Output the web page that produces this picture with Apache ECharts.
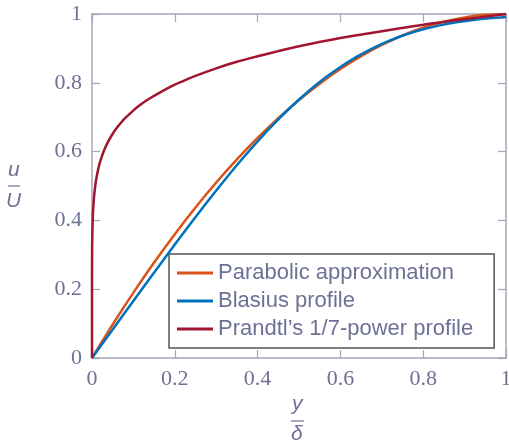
<!DOCTYPE html>
<html>
<head>
<meta charset="utf-8">
<script src="https://cdn.jsdelivr.net/npm/echarts@6/dist/echarts.min.js"></script>
<style>
  html, body { margin: 0; padding: 0; background: #fff; }
  #chart { width: 509px; height: 444px; }
</style>
</head>
<body>
<div id="chart"></div>
<script>
// values
var seriesNames = ['Parabolic approximation', 'Blasius profile', "Prandtl\u2019s 1/7-power profile"];
var parabolicX = [0, 0.05, 0.1, 0.15, 0.2, 0.25, 0.3, 0.35, 0.4, 0.45, 0.5, 0.55, 0.6, 0.65, 0.7, 0.75, 0.8, 0.85, 0.9, 0.95, 1];
var parabolicY = [0, 0.0975, 0.19, 0.2775, 0.36, 0.4375, 0.51, 0.5775, 0.64, 0.6975, 0.75, 0.7975, 0.84, 0.8775, 0.91, 0.9375, 0.96, 0.9775, 0.99, 0.9975, 1];
var blasiusX = [0, 0.04, 0.08, 0.12, 0.16, 0.2, 0.24, 0.28, 0.32, 0.36, 0.4, 0.44, 0.48, 0.52, 0.56, 0.6, 0.64, 0.68, 0.72, 0.76, 0.8, 0.84, 0.88, 0.92, 0.96, 1];
var blasiusY = [0, 0.0664, 0.1328, 0.1989, 0.2647, 0.3298, 0.3938, 0.4563, 0.5168, 0.5748, 0.6298, 0.6813, 0.729, 0.7725, 0.8115, 0.846, 0.8761, 0.9018, 0.9233, 0.9411, 0.9555, 0.967, 0.9759, 0.9827, 0.9878, 0.9916];
var prandtlX = [0, 0.00001, 0.0001, 0.0002, 0.0005, 0.001, 0.002, 0.003, 0.005, 0.0075, 0.01, 0.015, 0.02, 0.03, 0.04, 0.05, 0.06, 0.07, 0.08, 0.1, 0.12, 0.14, 0.17, 0.2, 0.22, 0.25, 0.3, 0.35, 0.4, 0.45, 0.5, 0.6, 0.7, 0.8, 0.9, 1];
var prandtlY = [0, 0.193, 0.268, 0.296, 0.338, 0.373, 0.412, 0.436, 0.469, 0.497, 0.518, 0.549, 0.572, 0.606, 0.631, 0.652, 0.669, 0.684, 0.697, 0.72, 0.739, 0.755, 0.776, 0.795, 0.805, 0.820, 0.842, 0.861, 0.877, 0.892, 0.906, 0.930, 0.950, 0.969, 0.985, 1];

var colors = ['#D95319', '#0072BD', '#A2142F'];
var axisColor = '#a3a5bb';
var textColor = '#6e7196';

function pairs(xs, ys) {
  var out = [];
  for (var i = 0; i < xs.length; i++) out.push([xs[i], ys[i]]);
  return out;
}

var myChart = echarts.init(document.getElementById('chart'));

var labelStyle = {
  color: textColor,
  fontFamily: 'Liberation Serif',
  fontSize: 22
};

function valAxis(pos, showLabel) {
  return {
    type: 'value',
    position: pos,
    min: 0,
    max: 1,
    interval: 0.2,
    axisLine: { show: true, onZero: false, lineStyle: { color: axisColor, width: 1.5 } },
    axisTick: { show: true, inside: true, length: 8, lineStyle: { color: axisColor, width: 1.2 } },
    splitLine: { show: false },
    axisLabel: showLabel ? Object.assign({ show: true, margin: 10 }, labelStyle) : { show: false }
  };
}

var option = {
  animation: false,
  backgroundColor: '#fff',
  grid: { left: 92, right: 3, top: 14, bottom: 86, outerBoundsMode: 'none', containLabel: false },
  xAxis: [valAxis('bottom', true), valAxis('top', false)],
  yAxis: [valAxis('left', true), valAxis('right', false)],
  legend: {
    orient: 'vertical',
    left: 169,
    top: 254,
    padding: [8, 21, 8, 8],
    itemGap: 6,
    itemWidth: 36,
    itemHeight: 3,
    icon: 'rect',
    backgroundColor: '#fff',
    borderColor: '#555',
    borderWidth: 1.5,
    textStyle: { color: textColor, fontFamily: 'Liberation Sans', fontSize: 22 },
    data: seriesNames
  },
  series: [
    {
      name: seriesNames[0], type: 'line', data: pairs(parabolicX, parabolicY),
      showSymbol: false, symbol: 'none', smooth: 0.3,
      lineStyle: { color: colors[0], width: 2.5 }, itemStyle: { color: colors[0] }, z: 3
    },
    {
      name: seriesNames[1], type: 'line', data: pairs(blasiusX, blasiusY),
      showSymbol: false, symbol: 'none', smooth: 0.3,
      lineStyle: { color: colors[1], width: 2.5 }, itemStyle: { color: colors[1] }, z: 4
    },
    {
      name: seriesNames[2], type: 'line', data: pairs(prandtlX, prandtlY),
      showSymbol: false, symbol: 'none', smooth: 0.3,
      lineStyle: { color: colors[2], width: 2.5 }, itemStyle: { color: colors[2] }, z: 5
    }
  ],
  graphic: [
    // y axis name: u / U
    { type: 'text', left: 8, top: 160, style: { text: 'u', fill: textColor, font: 'italic 21px "Liberation Sans"' } },
    { type: 'line', shape: { x1: 8, y1: 186, x2: 20, y2: 186 }, style: { stroke: textColor, lineWidth: 1.2 } },
    { type: 'text', left: 6, top: 191, style: { text: 'U', fill: textColor, font: 'italic 21px "Liberation Sans"' } },
    // x axis name: y / delta
    { type: 'text', left: 292, top: 394, style: { text: 'y', fill: textColor, font: 'italic 21px "Liberation Sans"' } },
    { type: 'line', shape: { x1: 291, y1: 421, x2: 304, y2: 421 }, style: { stroke: textColor, lineWidth: 1.2 } },
    { type: 'text', left: 291, top: 424, style: { text: '\u03b4', fill: textColor, font: 'italic 21px "Liberation Sans"' } }
  ]
};

myChart.setOption(option);
window.onresize = myChart.resize;
</script>
</body>
</html>
